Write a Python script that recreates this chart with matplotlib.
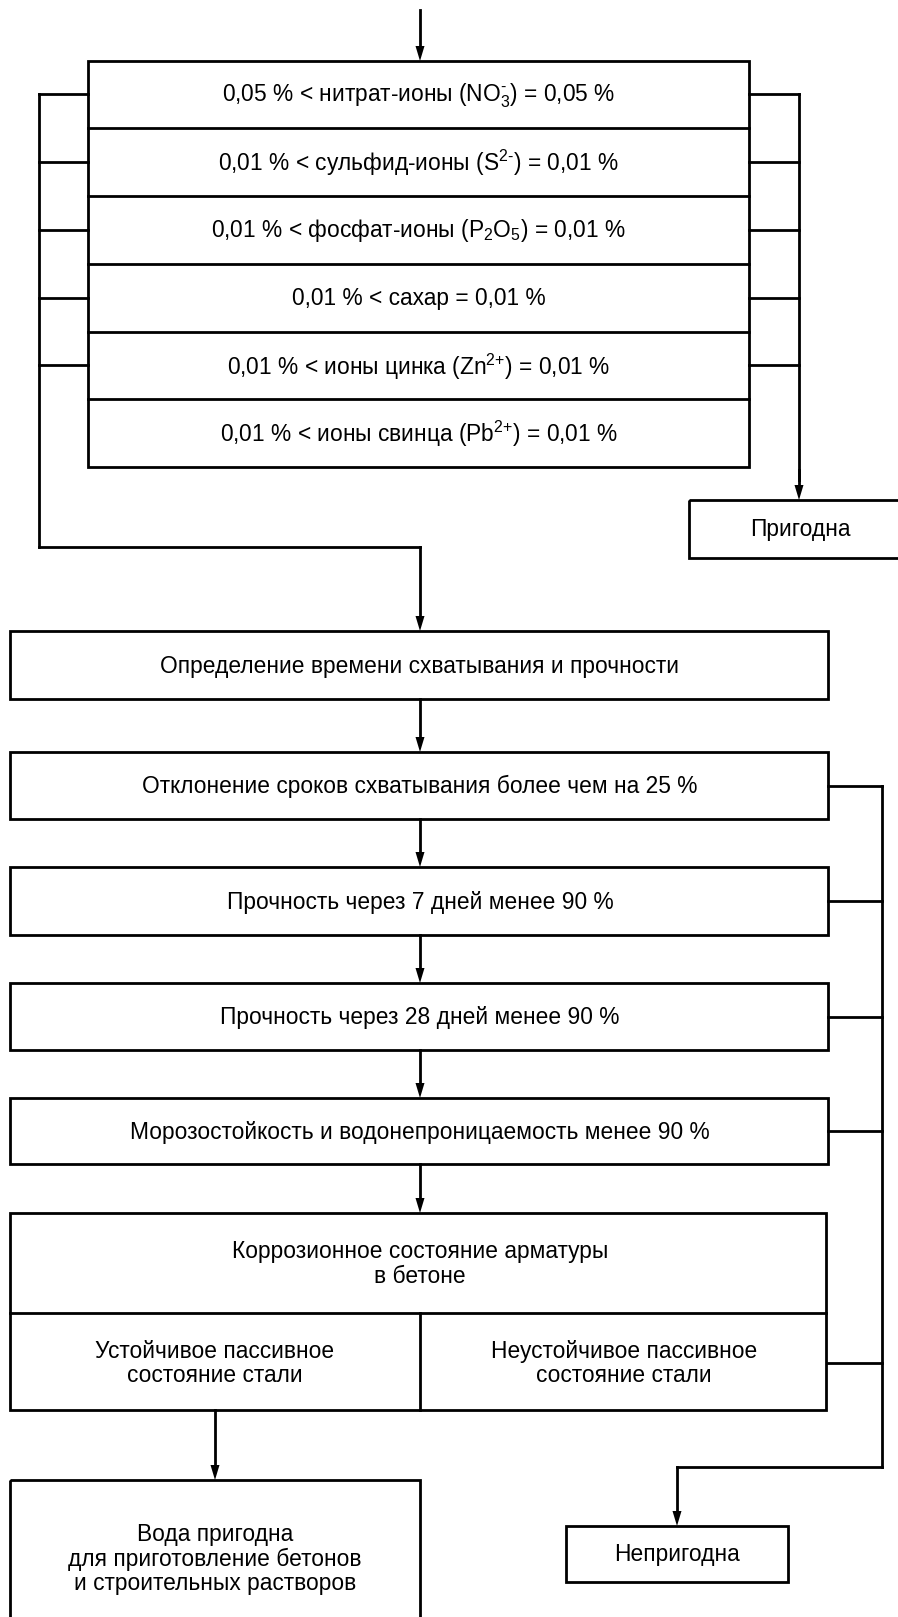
import matplotlib.pyplot as plt
from matplotlib.patches import Rectangle

# text content of the flow chart
ion_rows = [
    r"0,05 % < нитрат-ионы ($NO_3^{\text{-}}$) = 0,05 %",
    r"0,01 % < сульфид-ионы ($S^{\text{2-}}$) = 0,01 %",
    r"0,01 % < фосфат-ионы ($P_2O_5$) = 0,01 %",
    "0,01 % < сахар = 0,01 %",
    r"0,01 % < ионы цинка ($Zn^{\text{2+}}$) = 0,01 %",
    r"0,01 % < ионы свинца ($Pb^{\text{2+}}$) = 0,01 %",
]
fit_label = "Пригодна"
check_steps = [
    "Определение времени схватывания и прочности",
    "Отклонение сроков схватывания более чем на 25 %",
    "Прочность через 7 дней менее 90 %",
    "Прочность через 28 дней менее 90 %",
    "Морозостойкость и водонепроницаемость менее 90 %",
]
corrosion_title = "Коррозионное состояние арматуры\nв бетоне"
steel_states = ["Устойчивое пассивное\nсостояние стали",
                "Неустойчивое пассивное\nсостояние стали"]
final_ok = "Вода пригодна\nдля приготовление бетонов\nи строительных растворов"
final_bad = "Непригодна"

# layout (pixel units, y grows downward)
W, H = 898, 1617
LW = 2.0
FS = 16.4
ion_x0, ion_x1 = 88, 749
ion_edges = [61, 128, 196, 264, 332, 399, 467]
left_bus, right_bus = 39, 799
main_x0, main_x1 = 10, 828
step_tops = [631, 752, 867, 983, 1098]
step_bots = [699, 819, 935, 1050, 1164]
cx = 420
fail_bus = 882

plt.rcParams['font.family'] = ['Liberation Sans', 'DejaVu Sans']
plt.rcParams['mathtext.fontset'] = 'custom'
plt.rcParams['mathtext.rm'] = 'Liberation Sans'
plt.rcParams['mathtext.it'] = 'Liberation Sans'
plt.rcParams['mathtext.default'] = 'regular'

fig = plt.figure(figsize=(W / 100, H / 100), dpi=100)
ax = fig.add_axes([0, 0, 1, 1])
ax.set_xlim(0, W)
ax.set_ylim(H, 0)
ax.axis('off')


def box(x0, y0, x1, y1):
    ax.add_patch(Rectangle((x0, y0), x1 - x0, y1 - y0, fill=False,
                           edgecolor='black', linewidth=LW, joinstyle='miter'))


def line(xs, ys):
    ax.plot(xs, ys, color='black', linewidth=LW, solid_joinstyle='miter',
            solid_capstyle='projecting')


def arrow(x, y0, y1):
    hl, hw = 15, 4.5
    ax.plot([x, x], [y0, y1 - hl + 1], color='black', linewidth=LW)
    ax.fill([x - hw, x + hw, x], [y1 - hl, y1 - hl, y1], color='black', lw=0)


def label(x, y, s):
    ax.text(x, y, s, ha='center', va='center', fontsize=FS, linespacing=1.1)


# incoming arrow and ion table
arrow(cx, 10, ion_edges[0])
box(ion_x0, ion_edges[0], ion_x1, ion_edges[-1])
for e in ion_edges[1:-1]:
    line([ion_x0, ion_x1], [e, e])
mids = [(a + b) / 2 for a, b in zip(ion_edges[:-1], ion_edges[1:])]
for m, s in zip(mids, ion_rows):
    label((ion_x0 + ion_x1) / 2, m + 1, s)
for m in mids[:-1]:
    line([left_bus, ion_x0], [m, m])
    line([ion_x1, right_bus], [m, m])

# right bus -> "Пригодна"
line([right_bus, right_bus], [mids[0], 480])
arrow(right_bus, 470, 500)
box(689, 500, 920, 558)
label(800, 529, fit_label)

# left bus -> main chain
line([left_bus, left_bus], [mids[0], 547])
line([left_bus, cx], [547, 547])
arrow(cx, 547, step_tops[0])

for i, s in enumerate(check_steps):
    box(main_x0, step_tops[i], main_x1, step_bots[i])
    label(cx, (step_tops[i] + step_bots[i]) / 2 + 1, s)
    nxt = step_tops[i + 1] if i + 1 < len(step_tops) else 1213
    arrow(cx, step_bots[i], nxt)

# corrosion block
cor_top, cor_mid, cor_bot = 1213, 1313, 1410
box(main_x0, cor_top, main_x1 - 2, cor_bot)
line([main_x0, main_x1 - 2], [cor_mid, cor_mid])
line([cx, cx], [cor_mid, cor_bot])
label(cx, (cor_top + cor_mid) / 2 + 1, corrosion_title)
label(215, (cor_mid + cor_bot) / 2 + 2, steel_states[0])
label(624, (cor_mid + cor_bot) / 2 + 2, steel_states[1])

# failure bus
fail_taps = [(step_tops[i] + step_bots[i]) / 2 for i in range(1, 5)] + [1363]
line([fail_bus, fail_bus], [fail_taps[0], 1467])
for t in fail_taps:
    line([main_x1, fail_bus], [t, t])
line([fail_bus, 677], [1467, 1467])
arrow(677, 1467, 1526)
box(566, 1526, 788, 1582)
label(677, 1554, final_bad)

# suitable outcome
arrow(215, cor_bot, 1480)
box(main_x0, 1480, cx, 1640)
label(215, 1559, final_ok)

fig.savefig('out.png', dpi=100)
